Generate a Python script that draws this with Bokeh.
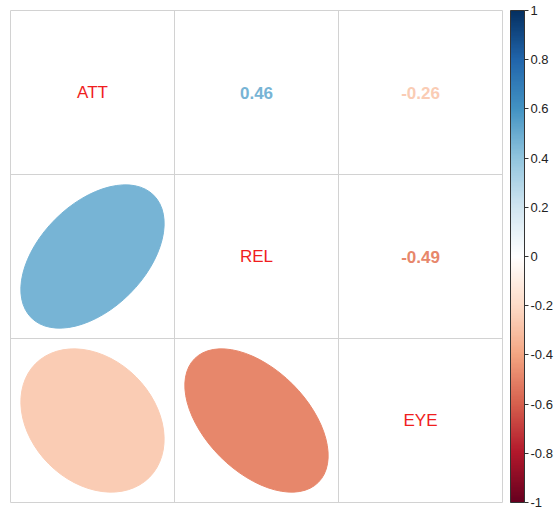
import numpy as np
from bokeh.plotting import figure
from bokeh.models import (Range1d, ColumnDataSource, LinearColorMapper, ColorBar,
                          FixedTicker, PrintfTickFormatter, Grid)
from bokeh.core.properties import value
from bokeh.embed import file_html
from bokeh.resources import INLINE

# ---- data ----
variables = ["ATT", "REL", "EYE"]
corr = [[1.00, 0.46, -0.26],
        [0.46, 1.00, -0.49],
        [-0.26, -0.49, 1.00]]
bar_ticks = [-1, -0.8, -0.6, -0.4, -0.2, 0, 0.2, 0.4, 0.6, 0.8, 1]

# RdBu palette (corrplot COL2) interpolated to 200 colours
base = ["#67001F", "#B2182B", "#D6604D", "#F4A582", "#FDDBC7", "#FFFFFF",
        "#D1E5F0", "#92C5DE", "#4393C3", "#2166AC", "#053061"]
rgb = np.array([[int(h[i:i + 2], 16) for i in (1, 3, 5)] for h in base], float)
pos = np.linspace(0, 1, len(base))
t = np.linspace(0, 1, 200)
pal = ["#%02x%02x%02x" % tuple(int(round(np.interp(tt, pos, rgb[:, k]))) for k in range(3)) for tt in t]


def colour(r):
    idx = int(np.clip(np.floor((r + 1) / 2 * 200), 0, 199))
    return pal[idx]


n = len(variables)
FONT = "Liberation Sans"
K = 0.437  # ellipse scale relative to cell size
GRID = "#D2D2D2"

p = figure(width=557, height=511, x_range=Range1d(-0.5, n - 0.5), y_range=Range1d(-0.5, n - 0.5),
           output_backend="svg", toolbar_location=None,
           x_axis_location=None, y_axis_location=None,
           min_border_left=10, min_border_top=10, min_border_bottom=9, min_border_right=55)
p.outline_line_color = GRID
p.outline_line_width = 1
p.background_fill_color = "white"
p.border_fill_color = "white"
p.xgrid.grid_line_color = None
p.ygrid.grid_line_color = None

grid_ticks = [i + 0.5 for i in range(n - 1)]
p.add_layout(Grid(dimension=0, ticker=FixedTicker(ticks=grid_ticks), grid_line_color=GRID))
p.add_layout(Grid(dimension=1, ticker=FixedTicker(ticks=grid_ticks), grid_line_color=GRID))

ex, ey, ew, eh, ea, ec = [], [], [], [], [], []
nx, ny, nt, nc = [], [], [], []
dx, dy, dt = [], [], []
for i in range(n):
    for j in range(n):
        r = corr[i][j]
        x = j
        y = n - 1 - i
        if i == j:
            dx.append(x); dy.append(y); dt.append(variables[i])
        elif i > j:
            a = abs(r)
            ex.append(x); ey.append(y)
            ew.append(2 * K * np.sqrt(1 + a))
            eh.append(2 * K * np.sqrt(1 - a))
            ea.append(np.pi / 4 if r > 0 else -np.pi / 4)
            ec.append(colour(r))
        else:
            nx.append(x); ny.append(y); nt.append(f"{r:.2f}"); nc.append(colour(r))

p.ellipse(x="x", y="y", width="w", height="h", angle="a", fill_color="c", line_color="c",
          source=ColumnDataSource(dict(x=ex, y=ey, w=ew, h=eh, a=ea, c=ec)))
p.text(x="x", y="y", text="t", text_color="c", text_font=value(FONT), text_font_size="17px",
       text_font_style="bold", text_align="center", text_baseline="middle",
       source=ColumnDataSource(dict(x=nx, y=ny, t=nt, c=nc)))
p.text(x="x", y="y", text="t", text_color="#F01E1E", text_font=value(FONT), text_font_size="17px",
       text_align="center", text_baseline="middle",
       source=ColumnDataSource(dict(x=dx, y=dy, t=dt)))

mapper = LinearColorMapper(palette=pal, low=-1, high=1)
cb = ColorBar(color_mapper=mapper, width=14, height=492, padding=0, margin=0,
              location=(8, 0),
              ticker=FixedTicker(ticks=bar_ticks),
              formatter=PrintfTickFormatter(format="%g"),
              major_tick_in=0, major_tick_out=4, major_tick_line_color="#333333",
              minor_tick_line_color=None, label_standoff=2,
              major_label_text_font=FONT, major_label_text_font_size="13px",
              major_label_text_color="#222222",
              bar_line_color="#333333", border_line_color=None, background_fill_color=None)
p.add_layout(cb, "right")

open("out.html", "w").write(file_html(p, INLINE))
